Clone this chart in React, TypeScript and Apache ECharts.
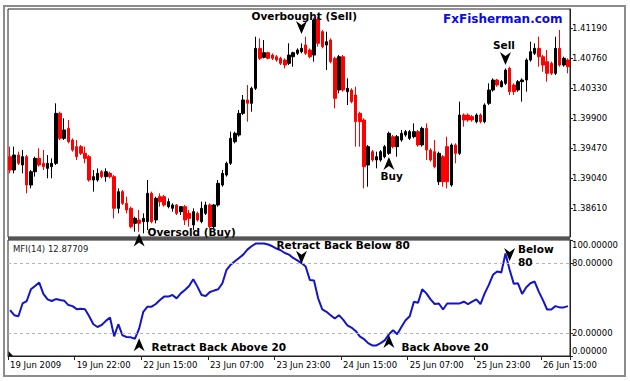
import { useEffect, useRef } from "react";
import * as echarts from "echarts";

// ---------- data ----------
const tickLabels = [
  "19 Jun 2009", "19 Jun 22:00", "22 Jun 15:00", "23 Jun 07:00", "23 Jun 23:00",
  "24 Jun 15:00", "25 Jun 07:00", "25 Jun 23:00", "26 Jun 15:00",
];
const TICK_STEP = 16;

const priceTicks = [1.3861, 1.3904, 1.3947, 1.399, 1.4033, 1.4076, 1.4119];
const mfiTicks = [0, 20, 80, 100];
const mfiLevels = [20, 80];
const priceMin = 1.38199;
const priceMax = 1.41467;

const open = [
  1.39350, 1.39159, 1.39374, 1.39231, 1.39350, 1.38944, 1.39135, 1.39326, 1.39255, 1.39183,
  1.39207, 1.39255, 1.39971, 1.39613, 1.39756, 1.39589, 1.39494, 1.39494, 1.39398, 1.39350,
  1.39016, 1.39016, 1.39135, 1.39064, 1.39111, 1.39064, 1.38610, 1.38849, 1.38681, 1.38610,
  1.38395, 1.38443, 1.38419, 1.38419, 1.38825, 1.38443, 1.38777, 1.38777, 1.38634, 1.38610,
  1.38658, 1.38562, 1.38634, 1.38538, 1.38371, 1.38538, 1.38419, 1.38538, 1.38658, 1.38347,
  1.38658, 1.38944, 1.39088, 1.39255, 1.39565, 1.39661, 1.39971, 1.40163, 1.40115, 1.40330,
  1.40903, 1.40774, 1.40841, 1.40807, 1.40783, 1.40760, 1.40736, 1.40688, 1.40783, 1.40831,
  1.40855, 1.40951, 1.40879, 1.40807, 1.41319, 1.41142, 1.40951, 1.41022, 1.40760, 1.40306,
  1.40783, 1.40282, 1.40306, 1.40234, 1.39971, 1.39876, 1.39231, 1.39422, 1.39303, 1.39303,
  1.39350, 1.39398, 1.39637, 1.39494, 1.39589, 1.39661, 1.39613, 1.39637, 1.39709, 1.39518,
  1.39756, 1.39446, 1.39422, 1.38992, 1.39350, 1.39494, 1.38944, 1.39518, 1.39398, 1.39947,
  1.39947, 1.39924, 1.39852, 1.39947, 1.39852, 1.40115, 1.40306, 1.40449, 1.40353, 1.40401,
  1.40616, 1.40377, 1.40306, 1.40425, 1.40449, 1.40736, 1.40831, 1.40903, 1.40783, 1.40712,
  1.40688, 1.40545, 1.40903, 1.40664, 1.40736,
];
const close = [
  1.39159, 1.39374, 1.39255, 1.39350, 1.38944, 1.39135, 1.39326, 1.39231, 1.39207, 1.39255,
  1.39255, 1.39971, 1.39613, 1.39733, 1.39565, 1.39446, 1.39350, 1.39398, 1.39326, 1.39016,
  1.39064, 1.39111, 1.39064, 1.39135, 1.39064, 1.38610, 1.38849, 1.38681, 1.38586, 1.38347,
  1.38466, 1.38395, 1.38466, 1.38825, 1.38419, 1.38753, 1.38705, 1.38658, 1.38705, 1.38658,
  1.38538, 1.38634, 1.38443, 1.38466, 1.38562, 1.38443, 1.38610, 1.38658, 1.38347, 1.38658,
  1.38968, 1.39111, 1.39255, 1.39613, 1.39685, 1.39971, 1.40163, 1.40115, 1.40330, 1.40903,
  1.40760, 1.40841, 1.40760, 1.40760, 1.40736, 1.40688, 1.40664, 1.40807, 1.40841, 1.40879,
  1.40903, 1.40831, 1.40783, 1.41309, 1.40975, 1.40927, 1.40998, 1.40712, 1.40186, 1.40783,
  1.40306, 1.40330, 1.40139, 1.39852, 1.39852, 1.39207, 1.39494, 1.39303, 1.39350, 1.39422,
  1.39494, 1.39685, 1.39494, 1.39637, 1.39685, 1.39709, 1.39709, 1.39709, 1.39518, 1.39756,
  1.39446, 1.39303, 1.39207, 1.39398, 1.38992, 1.38992, 1.39518, 1.39398, 1.39947, 1.39876,
  1.39876, 1.39876, 1.39947, 1.39852, 1.40091, 1.40306, 1.40449, 1.40377, 1.40425, 1.40592,
  1.40282, 1.40282, 1.40425, 1.40449, 1.40736, 1.40855, 1.40903, 1.40783, 1.40664, 1.40545,
  1.40545, 1.40903, 1.40664, 1.40760, 1.40640,
];
const low = [
  1.39111, 1.39111, 1.39231, 1.39111, 1.38825, 1.38896, 1.39064, 1.39207, 1.39159, 1.39040,
  1.39040, 1.39231, 1.39589, 1.39589, 1.39541, 1.39422, 1.39303, 1.39374, 1.39255, 1.38992,
  1.38849, 1.38992, 1.39040, 1.38992, 1.39040, 1.38466, 1.38538, 1.38658, 1.38538, 1.38323,
  1.38275, 1.38275, 1.38252, 1.38299, 1.38395, 1.38395, 1.38634, 1.38634, 1.38610, 1.38562,
  1.38514, 1.38514, 1.38371, 1.38347, 1.38299, 1.38419, 1.38395, 1.38514, 1.38323, 1.38323,
  1.38634, 1.38920, 1.39064, 1.39231, 1.39541, 1.39637, 1.39947, 1.39852, 1.39995, 1.40306,
  1.40736, 1.40760, 1.40745, 1.40736, 1.40712, 1.40664, 1.40616, 1.40664, 1.40640, 1.40807,
  1.40831, 1.40807, 1.40760, 1.40712, 1.40927, 1.40903, 1.40592, 1.40688, 1.40043, 1.40258,
  1.40282, 1.40091, 1.40115, 1.39494, 1.39494, 1.38896, 1.38920, 1.39279, 1.39183, 1.39279,
  1.39326, 1.39374, 1.39470, 1.39350, 1.39565, 1.39637, 1.39589, 1.39613, 1.39494, 1.39494,
  1.39303, 1.39279, 1.39183, 1.38944, 1.38920, 1.38896, 1.38920, 1.39255, 1.39374, 1.39780,
  1.39852, 1.39852, 1.39828, 1.39828, 1.39828, 1.40091, 1.40282, 1.40353, 1.40344, 1.40377,
  1.40234, 1.40234, 1.40282, 1.40139, 1.40282, 1.40712, 1.40807, 1.40640, 1.40568, 1.40425,
  1.40521, 1.40521, 1.40640, 1.40640, 1.40545,
];
const high = [
  1.39494, 1.39494, 1.39422, 1.39446, 1.39374, 1.39159, 1.39350, 1.39470, 1.39446, 1.39374,
  1.39326, 1.40115, 1.39995, 1.39900, 1.39876, 1.39613, 1.39589, 1.39518, 1.39494, 1.39374,
  1.39159, 1.39183, 1.39159, 1.39183, 1.39135, 1.39088, 1.38896, 1.38872, 1.38777, 1.38634,
  1.38490, 1.38586, 1.38538, 1.39016, 1.38849, 1.38777, 1.38825, 1.38801, 1.38753, 1.38681,
  1.38672, 1.38643, 1.38658, 1.38586, 1.38610, 1.38562, 1.38705, 1.38705, 1.38681, 1.38672,
  1.39016, 1.39159, 1.39279, 1.39709, 1.39709, 1.40019, 1.40234, 1.40377, 1.40353, 1.41070,
  1.41046, 1.41022, 1.40855, 1.40831, 1.40807, 1.40783, 1.40760, 1.40975, 1.40855, 1.40903,
  1.40975, 1.41070, 1.40903, 1.41333, 1.41357, 1.41166, 1.41142, 1.41046, 1.40783, 1.40807,
  1.40807, 1.40473, 1.40330, 1.40353, 1.39995, 1.39900, 1.39518, 1.39446, 1.39422, 1.39446,
  1.39518, 1.39709, 1.39661, 1.39661, 1.39733, 1.39733, 1.39733, 1.39828, 1.39733, 1.39780,
  1.39828, 1.39470, 1.39589, 1.39422, 1.39374, 1.39637, 1.39541, 1.39541, 1.40139, 1.39971,
  1.39971, 1.39947, 1.39971, 1.39971, 1.40115, 1.40401, 1.40473, 1.40463, 1.40449, 1.40616,
  1.40640, 1.40401, 1.40449, 1.40473, 1.40760, 1.40998, 1.40975, 1.41070, 1.40807, 1.40879,
  1.40712, 1.41070, 1.41166, 1.40783, 1.40760,
];
const mfi = [
  39.6, 35.2, 34.3, 45.3, 47.4, 57.5, 60.4, 63.3, 53.5, 48.8,
  47.4, 49.1, 48.2, 47.7, 43.9, 43.0, 40.4, 40.7, 40.4, 34.3,
  27.4, 25.0, 26.8, 30.3, 33.2, 16.9, 27.4, 17.8, 16.4, 16.1,
  14.9, 23.6, 38.1, 42.5, 42.5, 44.8, 48.2, 51.2, 51.2, 52.6,
  49.7, 54.0, 56.9, 60.4, 66.2, 59.8, 52.6, 51.7, 55.2, 56.4,
  57.5, 62.7, 74.3, 78.7, 81.6, 84.5, 87.4, 91.7, 94.6, 96.9,
  96.9, 96.9, 96.1, 94.6, 92.6, 91.2, 88.8, 87.4, 84.5, 82.5,
  80.1, 77.2, 65.6, 65.1, 49.7, 40.1, 38.1, 35.2, 32.3, 35.2,
  31.4, 26.5, 24.5, 21.6, 16.9, 14.6, 11.1, 9.1, 9.1, 11.1,
  13.5, 18.7, 22.2, 18.7, 25.0, 30.8, 34.3, 46.8, 45.9, 57.5,
  54.0, 48.8, 44.8, 45.3, 40.1, 45.3, 45.3, 45.3, 45.3, 46.8,
  44.8, 46.8, 48.8, 44.8, 54.0, 61.3, 70.0, 72.9, 72.0, 88.3,
  74.3, 62.2, 62.7, 53.5, 59.3, 62.7, 64.2, 55.5, 48.2, 40.1,
  40.1, 43.0, 41.9, 41.9, 43.0,
];

// annotations: [category index, value]
const priceArrows = [
  { index: 70, value: 1.41202, dir: "down" },
  { index: 119, value: 1.40757, dir: "down" },
  { index: 91, value: 1.39252, dir: "up" },
];
const priceNotes = [
  { index: 58, value: 1.41366, text: "Overbought (Sell)" },
  { index: 116, value: 1.40951, text: "Sell" },
  { index: 89, value: 1.39073, text: "Buy" },
  { index: 33, value: 1.3827, text: "Oversold (Buy)" },
];
const mfiArrows = [
  { index: 31, value: 100, dir: "up" },
  { index: 70, value: 85.2, dir: "down" },
  { index: 31, value: 9.7, dir: "up" },
  { index: 91, value: 12.6, dir: "up" },
  { index: 120, value: 87.4, dir: "down" },
];
const mfiNotes = [
  { index: 64, value: 96.1, text: "Retract Back Below 80" },
  { index: 34, value: 7.4, text: "Retract Back Above 20" },
  { index: 94, value: 7.4, text: "Back Above 20" },
  { index: 122, value: 86.5, text: "Below\n80" },
];

const UP_ARROW = "path://M5.5,0 L11,13 L5.5,9 L0,13 Z";
const DOWN_ARROW = "path://M0,0 L5.5,4 L11,0 L5.5,13 Z";
const FONT = "DejaVu Sans";

const categories = open.map((_, i) =>
  i % TICK_STEP === 0 && tickLabels[i / TICK_STEP] ? tickLabels[i / TICK_STEP] : String(i)
);

function markItems(
  arrows: { index: number; value: number; dir: string }[],
  notes: { index: number; value: number; text: string }[]
) {
  const a = arrows.map((p) => ({
    coord: [p.index, p.value],
    symbol: p.dir === "up" ? UP_ARROW : DOWN_ARROW,
    symbolSize: [11, 13],
    symbolKeepAspect: false,
    itemStyle: { color: "#000" },
    label: { show: false },
  }));
  const n = notes.map((p) => ({
    coord: [p.index, p.value],
    symbol: "circle",
    symbolSize: 1,
    itemStyle: { color: "rgba(0,0,0,0)" },
    label: {
      show: true,
      position: "inside",
      align: "left",
      verticalAlign: "middle",
      formatter: p.text,
      color: "#000",
      fontFamily: FONT,
      fontWeight: "bold",
      fontSize: 10.5,
      lineHeight: 13,
    },
  }));
  return [...a, ...n];
}

export default function App() {
  const ref = useRef<HTMLDivElement>(null);
  useEffect(() => {
    if (!ref.current) return;
    const chart = echarts.init(ref.current, undefined, { renderer: "svg" });
    const candleData = open.map((o, i) => [o, close[i], low[i], high[i]]);
    const labelStyle = { fontFamily: FONT, fontSize: 8.5, color: "#000" };
    chart.setOption({
      animation: false,
      backgroundColor: "#fff",
      grid: [
        { left: 8, top: 9, width: 562, height: 228, show: true, borderColor: "#222", borderWidth: 1, backgroundColor: "#fff" },
        { left: 8, top: 240, width: 562, height: 116, show: true, borderColor: "#222", borderWidth: 1, backgroundColor: "#fff" },
      ],
      xAxis: [
        {
          type: "category", gridIndex: 0, data: categories, boundaryGap: true,
          axisLine: { show: false }, axisTick: { show: false }, axisLabel: { show: false }, splitLine: { show: false },
        },
        {
          type: "category", gridIndex: 1, data: categories, boundaryGap: true,
          axisLine: { show: true, lineStyle: { color: "#222" } },
          axisTick: {
            show: true, length: 4, lineStyle: { color: "#222" },
            interval: (i: number) => i % TICK_STEP === 0,
          },
          axisLabel: {
            ...labelStyle, margin: 4, align: "left",
            interval: (i: number) => i % TICK_STEP === 0,
            formatter: (_v: string, i: number) => tickLabels[i / TICK_STEP] ?? "",
          },
          splitLine: { show: false },
        },
      ],
      yAxis: [
        {
          type: "value", gridIndex: 0, position: "right", min: priceMin, max: priceMax, scale: true,
          axisLine: { show: true, lineStyle: { color: "#222" } },
          axisTick: { show: true, length: 3, customValues: priceTicks, lineStyle: { color: "#222" } },
          axisLabel: { ...labelStyle, margin: 2, customValues: priceTicks, formatter: (v: number) => v.toFixed(5) },
          splitLine: { show: false },
        },
        {
          type: "value", gridIndex: 1, position: "right", min: 0, max: 100,
          axisLine: { show: true, lineStyle: { color: "#222" } },
          axisTick: { show: true, length: 3, customValues: mfiTicks, lineStyle: { color: "#222" } },
          axisLabel: {
            ...labelStyle, margin: 2, customValues: mfiTicks,
            formatter: (v: number) =>
              v === 100 ? "{t|100.00000}" : v === 0 ? "{b|0.00000}" : v.toFixed(5),
            rich: {
              t: { ...labelStyle, padding: [10, 0, 0, 0] },
              b: { ...labelStyle, padding: [0, 0, 10, 0] },
            },
          },
          splitLine: { show: false },
        },
      ],
      series: [
        {
          type: "candlestick", xAxisIndex: 0, yAxisIndex: 0, data: candleData, barWidth: 3,
          itemStyle: { color: "#000", color0: "#ff0000", borderColor: "#000", borderColor0: "#ff0000", borderWidth: 1 },
          markPoint: { silent: true, data: markItems(priceArrows, priceNotes) },
        },
        {
          type: "line", xAxisIndex: 1, yAxisIndex: 1, data: mfi, showSymbol: false, z: 3,
          lineStyle: { color: "#1414c8", width: 2 },
          markLine: {
            silent: true, symbol: "none", label: { show: false },
            lineStyle: { type: [3, 3], color: "#b4b4b4", width: 1 },
            data: mfiLevels.map((v) => ({ yAxis: v })),
          },
          markPoint: { silent: true, z: 10, data: markItems(mfiArrows, mfiNotes) },
        },
      ],
      graphic: [
        { type: "rect", z: 0, shape: { x: 4, y: 6, width: 621, height: 370 }, style: { fill: "none", stroke: "#8c8c8c", lineWidth: 2 } },
        { type: "rect", z: 1, shape: { x: 8, y: 237, width: 562, height: 3 }, style: { fill: "#555" } },
        { type: "text", z: 5, x: 443, y: 19, style: { text: "FxFisherman.com", fill: "#0a0ae6", font: `bold 12px "${FONT}"`, verticalAlign: "middle" } },
        { type: "text", z: 5, x: 13, y: 248.5, style: { text: "MFI(14) 12.87709", fill: "#222", font: `8.5px "${FONT}"`, verticalAlign: "middle" } },
        { type: "polygon", z: 5, shape: { points: [[8.5, 351], [8.5, 356], [13, 356]] }, style: { fill: "#000" } },
      ],
    });
    return () => chart.dispose();
  }, []);
  return <div ref={ref} style={{ position: "absolute", left: 0, top: 0, width: 630, height: 381 }} />;
}
